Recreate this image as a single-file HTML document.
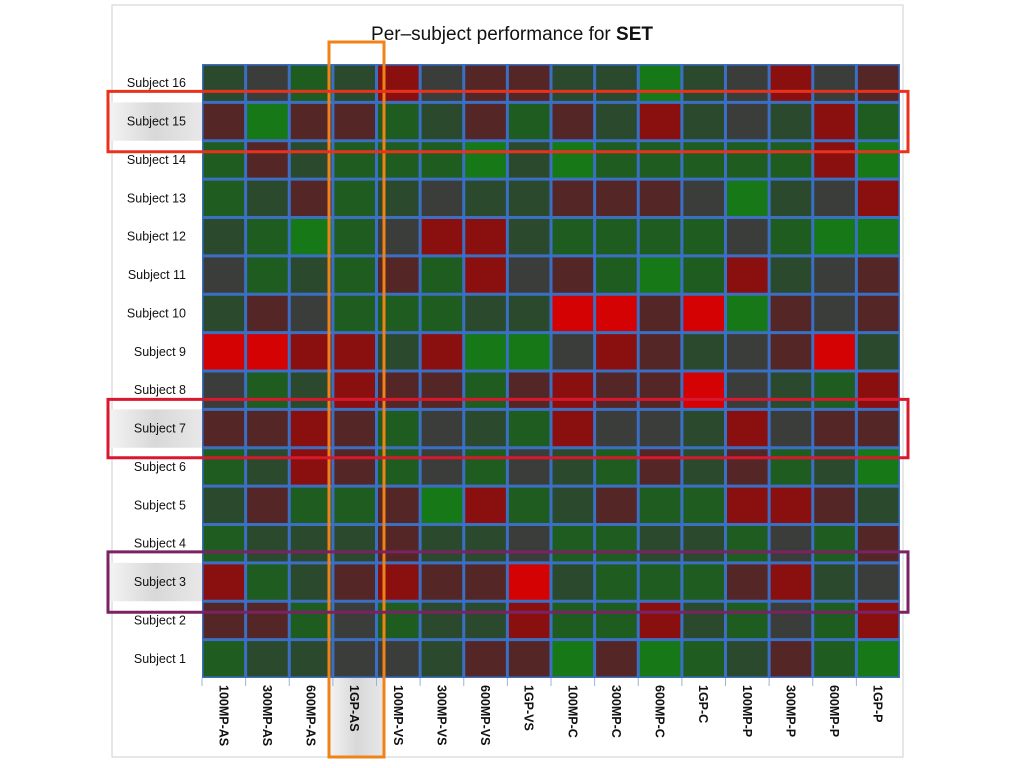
<!DOCTYPE html>
<html><head><meta charset="utf-8"><style>
body{margin:0;background:#fff;width:1024px;height:768px;overflow:hidden;font-family:"Liberation Sans",sans-serif}
svg{display:block}
</style></head><body>
<svg id="chart" width="1024" height="768" xmlns="http://www.w3.org/2000/svg">
<defs><linearGradient id="hl" x1="0" x2="1"><stop offset="0" stop-color="#f4f4f4"/><stop offset="0.5" stop-color="#d8d8d8"/><stop offset="1" stop-color="#e8e8e8"/></linearGradient></defs>
<rect x="112" y="5" width="791" height="752" fill="#fff" stroke="#cfcfcf"/>
<text x="512" y="40" text-anchor="middle" font-size="19" font-weight="500" fill="#111">Per–subject performance for <tspan font-weight="bold">SET</tspan></text>
<g id="cells"></g><g id="labels"></g>
</svg>
<script>
const columns=["100MP-AS","300MP-AS","600MP-AS","1GP-AS","100MP-VS","300MP-VS","600MP-VS","1GP-VS","100MP-C","300MP-C","600MP-C","1GP-C","100MP-P","300MP-P","600MP-P","1GP-P"];
const subjects=["Subject 16","Subject 15","Subject 14","Subject 13","Subject 12","Subject 11","Subject 10","Subject 9","Subject 8","Subject 7","Subject 6","Subject 5","Subject 4","Subject 3","Subject 2","Subject 1"];
const s16=[1,0,2,1,-2,0,-1,-1,1,1,3,1,0,-2,0,-1];
const s15=[-1,3,-1,-1,2,1,-1,2,-1,1,-2,1,0,1,-2,2];
const s14=[2,-1,1,2,2,2,3,1,3,2,2,2,2,2,-2,3];
const s13=[2,1,-1,2,1,0,1,1,-1,-1,-1,0,3,1,0,-2];
const s12=[1,2,3,2,0,-2,-2,1,2,2,2,2,0,2,3,3];
const s11=[0,2,1,2,-1,2,-2,0,-1,2,3,2,-2,1,0,-1];
const s10=[1,-1,0,2,2,2,1,1,-3,-3,-1,-3,3,-1,0,-1];
const s9=[-3,-3,-2,-2,1,-2,3,3,0,-2,-1,1,0,-1,-3,1];
const s8=[0,2,1,-2,-1,-1,2,-1,-2,-1,-1,-3,0,1,2,-2];
const s7=[-1,-1,-2,-1,2,0,1,2,-2,0,0,1,-2,0,-1,-1];
const s6=[2,1,-2,-1,2,0,2,0,1,2,-1,1,-1,2,1,3];
const s5=[1,-1,2,2,-1,3,-2,2,1,-1,2,2,-2,-2,-1,1];
const s4=[2,1,1,1,-1,1,1,0,2,2,1,1,2,0,2,-1];
const s3=[-2,2,1,-1,-2,-1,-1,-3,1,2,2,2,-1,-2,1,0];
const s2=[-1,-1,2,0,2,1,1,-2,2,2,-2,1,2,0,2,-2];
const s1=[2,1,1,0,0,1,-1,-1,3,-1,3,2,1,-1,2,3];
const values=[s16,s15,s14,s13,s12,s11,s10,s9,s8,s7,s6,s5,s4,s3,s2,s1];
const palette={"-3":"#d40202","-2":"#8a1010","-1":"#552626","0":"#3b3d3b","1":"#2b4a2d","2":"#1f5c20","3":"#167816"};
const NS="http://www.w3.org/2000/svg";
const X0=202,X1=900,Y0=64,Y1=678;
const cw=(X1-X0)/columns.length, rh=(Y1-Y0)/subjects.length;
const xs=i=>X0+i*cw, ys=j=>Y0+j*rh;
function mk(t,a,p){const e=document.createElementNS(NS,t);for(const k in a)e.setAttribute(k,a[k]);p.appendChild(e);return e;}
const cells=document.getElementById('cells'),labels=document.getElementById('labels');
const hlRows=[1,9,13];
hlRows.forEach(j=>{const r=mk('rect',{x:108,y:ys(j),width:X0-108,height:rh,fill:'url(#hl)'},labels);

});
const ch=mk('rect',{x:329,y:Y1,width:55,height:757-Y1,fill:'url(#hl)'},labels);


mk('rect',{x:X0,y:Y0,width:X1-X0,height:Y1-Y0,fill:'#3b6fc4'},cells);
values.forEach((row,j)=>row.forEach((v,i)=>{
 const r=mk('rect',{x:xs(i)+1.5,y:ys(j)+1.5,width:cw-3,height:rh-3,fill:palette[String(v)]},cells);
 
 
}));
subjects.forEach((s,j)=>{const t=mk('text',{x:186,y:ys(j)+rh/2+4,'text-anchor':'end','font-size':12.5,fill:'#111'},labels);t.textContent=s;

});
columns.forEach((c,i)=>{const cx=xs(i)+cw/2;
 mk('line',{x1:xs(i),y1:Y1,x2:xs(i),y2:Y1+8,stroke:'#9db3d8'},labels);
 const t=mk('text',{x:0,y:0,transform:`translate(${cx-4.5},${Y1+7}) rotate(90)`,'font-size':12.5,'font-weight':'bold',fill:'#111'},labels);t.textContent=c;
 
 });
const boxes=[[329,42,55,715,'#f08318','column-1gp-as-highlight'],[108,ys(1)-11,800,rh+22,'#e8321e','subject-15-highlight'],[108,ys(9)-10,800,rh+20,'#d8182e','subject-7-highlight'],[108,ys(13)-11,800,rh+22,'#7a2262','subject-3-highlight']];
boxes.forEach(b=>{const r=mk('rect',{x:b[0],y:b[1],width:b[2],height:b[3],fill:'none',stroke:b[4],'stroke-width':3},labels);
 
 });
</script>
</body></html>
